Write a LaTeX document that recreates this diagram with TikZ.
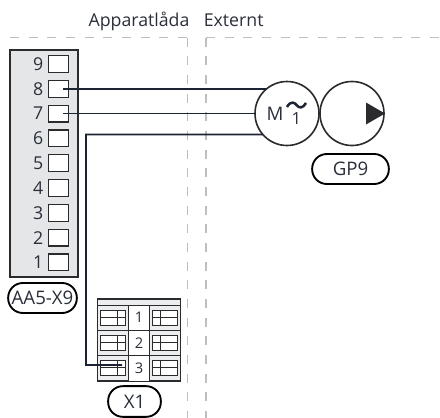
\documentclass[tikz,border=0pt]{standalone}
\usepackage{fontspec}
\setmainfont{Open Sans}
\definecolor{ink}{HTML}{2B2A2C}
\definecolor{wire}{HTML}{1C2433}
\definecolor{panel}{HTML}{E4E6E8}
\definecolor{dashgrey}{HTML}{BDBEC0}
\definecolor{txt}{HTML}{2A2F3A}
\tikzset{
  sep/.style={draw=dashgrey,line width=1.3pt,dash pattern=on 6.8pt off 7.2pt},
  wireline/.style={draw=wire,line width=1.4pt},
  term/.style={draw=ink,fill=white,line width=0.9pt,minimum width=15pt,minimum height=12.5pt,inner sep=0pt,outer sep=0pt},
  lab/.style={text=txt,font=\fontsize{13.3pt}{15pt}\selectfont,inner sep=0pt},
  small/.style={text=txt,font=\fontsize{11pt}{13pt}\selectfont,inner sep=0pt},
  pill/.style={draw=black,line width=1.4pt,rounded corners=11pt,fill=white,text=txt,font=\fontsize{14pt}{16pt}\selectfont,inner sep=0pt},
  circ/.style={draw=ink,line width=1.2pt,circle,minimum size=48pt,inner sep=0pt,outer sep=0pt},
  thin/.style={draw=ink,line width=0.75pt}
}
\newcommand{\cellbox}[4]{% x0 y0 x1 xdiv
  \draw[thin,fill=white] (#1,#2) rectangle (#3,#2+15.5);
  \draw[thin] (#1,#2+7.7) -- (#3,#2+7.7) (#4,#2) -- (#4,#2+15.5);
}
\begin{document}
\begin{tikzpicture}[x=0.75pt,y=-0.75pt]
\useasboundingbox (0,0) rectangle (440,418);
% separators
\coordinate (sa) at (10,37.5); \coordinate (sb) at (187.5,37.5); \coordinate (sc) at (187.5,418);
\coordinate (sd) at (206,418); \coordinate (se) at (206,37.5); \coordinate (sf) at (440,37.5);
\draw[sep] (sa) -- (sb);
\draw[sep] (sb) -- (sc);
\draw[sep] (se) -- (sd);
\draw[sep] (se) -- (sf);
\node[lab,anchor=base] (t1) at (139,26) {Apparatlåda};
\node[lab,anchor=base west] (t2) at (203.5,26) {Externt};
% terminal panel
\node[draw=ink,fill=panel,line width=1pt,minimum width=51pt,minimum height=170.25pt,inner sep=0pt,outer sep=0pt] (panel) at (44,163.5) {};
\foreach \n/\y in {9/64,8/88.8,7/113.6,6/138.4,5/163.2,4/188,3/212.8,2/237.6,1/262.4}{
  \node[term] (p\n) at (58.5,\y) {};
  \node[lab,anchor=east] (l\n) at (43.5,\y) {\n};
}
% terminal block X1
\node[draw=ink,fill=panel!70!white,line width=1pt,minimum width=62.5pt,minimum height=61.5pt,inner sep=0pt,outer sep=0pt] (blk) at (139,340) {};
\draw[thin] (97.3,305.7) -- (180.7,305.7);
\draw[thin] (97.3,330.7) -- (128.7,330.7) (149.3,330.7) -- (180.7,330.7);
\draw[thin] (97.3,355.7) -- (128.7,355.7) (149.3,355.7) -- (180.7,355.7);
\fill[white] (128.7,305.7) rectangle (149.3,380.7);
\draw[thin] (128.7,305.7) -- (128.7,380.7) (149.3,305.7) -- (149.3,380.7);
\draw[thin] (128.7,330.7) -- (149.3,330.7) (128.7,355.7) -- (149.3,355.7);
\foreach \y in {310,335,360}{
  \cellbox{100.7}{\y}{125.3}{117.3}
  \cellbox{152.7}{\y}{177.7}{160.7}
}
\node[small] (r1) at (139,317.5) {1};
\node[small] (r2) at (139,343.5) {2};
\node[small] (r3) at (139,368) {3};
% pump and motor
\node[circ] (motor) at (287,113.5) {};
\node[circ] (pump) at (352,113.5) {};
\fill[ink] (366,102.5) -- (385,113.5) -- (366,124.5) -- cycle;
\node[lab,font=\fontsize{14pt}{16pt}\selectfont] (m) at (275,113.5) {M};
\node[lab,font=\fontsize{12.5pt}{14pt}\selectfont] (mone) at (296.5,119) {1};
\draw[wire,line width=1.9pt] (287,107) .. controls (291,100) and (295,103) .. (296.5,105) .. controls (299,108.5) and (303,108.5) .. (306,103);
% wires
\coordinate (w8) at (63,89); \coordinate (w7) at (63,113.5); \coordinate (c1) at (86,134.5); \coordinate (c2) at (86,365);
\coordinate (w3) at (122,365);
\draw[wireline] (w8) -- (motor.130);
\draw[wireline] (w7) -- (motor.west);
\draw[wireline] (w3) -- (c2) -- (c1) -- (motor.221);
% labels
\node[pill,minimum width=57.5pt,minimum height=22.5pt] (gp) at (350.5,169) {GP9};
\node[pill,minimum width=51.5pt,minimum height=22.5pt] (aa) at (42.5,298) {AA5-X9};
\node[pill,minimum width=39.5pt,minimum height=23pt] (x1) at (134.5,401.5) {X1};
\end{tikzpicture}
\end{document}
